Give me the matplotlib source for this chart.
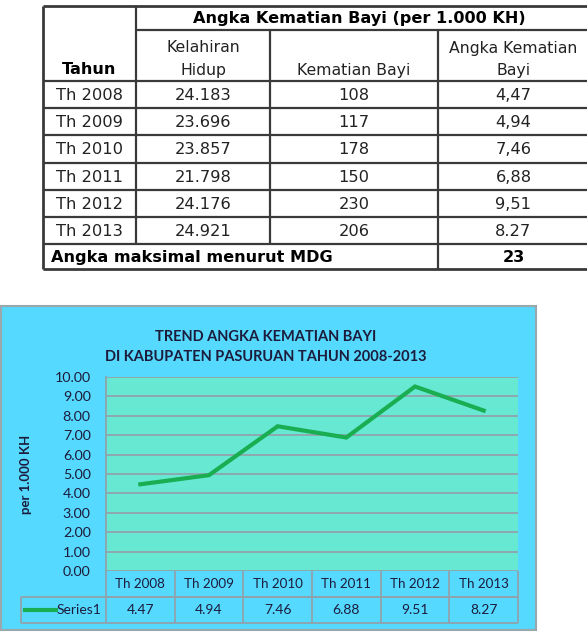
import matplotlib.pyplot as plt
from matplotlib.patches import Rectangle

# Data
tahun = ["Th 2008", "Th 2009", "Th 2010", "Th 2011", "Th 2012", "Th 2013"]
kelahiran_hidup = ["24.183", "23.696", "23.857", "21.798", "24.176", "24.921"]
kematian_bayi = ["108", "117", "178", "150", "230", "206"]
akb_tabel = ["4,47", "4,94", "7,46", "6,88", "9,51", "8.27"]
akb = [4.47, 4.94, 7.46, 6.88, 9.51, 8.27]
mdg = "23"
yticks = [0, 1, 2, 3, 4, 5, 6, 7, 8, 9, 10]

W, H = 587, 643
fig = plt.figure(figsize=(W / 100, H / 100), dpi=100)

# overlay axes in pixel coordinates (y down)
ax0 = fig.add_axes([0, 0, 1, 1])
ax0.set_xlim(0, W)
ax0.set_ylim(H, 0)
ax0.axis("off")

# ---------- top table ----------
tab_font = "DejaVu Sans"
lc = "#3a3a3a"
x_cols = [43, 136, 270, 438, 589]
y_top, y_h1, y_h2 = 6, 30, 81
row_h = (244 - 81) / 6
y_rows = [y_h2 + row_h * i for i in range(7)] + [269]

def hline(x1, x2, y, lw=1.6, c=lc):
    ax0.plot([x1, x2], [y, y], color=c, lw=lw, solid_capstyle="butt")

def vline(x, y1, y2, lw=1.6, c=lc):
    ax0.plot([x, x], [y1, y2], color=c, lw=lw, solid_capstyle="butt")

hline(x_cols[0], x_cols[-1], y_top, 2)
hline(x_cols[1], x_cols[-1], y_h1)
for y in y_rows[:-1]:
    hline(x_cols[0], x_cols[-1], y)
hline(x_cols[0], x_cols[-1], y_rows[-1], 2)
vline(x_cols[0], y_top, y_rows[-1], 2)
for x in x_cols[1:3]:
    vline(x, y_h1, y_rows[-2])
vline(x_cols[1], y_top, y_h1)
vline(x_cols[3], y_h1, y_rows[-1])

fs = 11.3
fsb = 11.6
cx = [(x_cols[i] + x_cols[i + 1]) / 2 for i in range(4)]
ax0.text((x_cols[1] + x_cols[-1]) / 2 - 3, (y_top + y_h1) / 2 + 1, "Angka Kematian Bayi (per 1.000 KH)",
         ha="center", va="center", fontsize=fsb, fontweight="bold", family=tab_font)
ax0.text(cx[0], 70, "Tahun", ha="center", va="center", fontsize=fsb, fontweight="bold", family=tab_font)
ax0.text(cx[1], 48, "Kelahiran", ha="center", va="center", fontsize=fs, family=tab_font, color="#222")
ax0.text(cx[1], 70, "Hidup", ha="center", va="center", fontsize=fs, family=tab_font, color="#222")
ax0.text(cx[2], 70, "Kematian Bayi", ha="center", va="center", fontsize=fs, family=tab_font, color="#222")
ax0.text(cx[3], 48, "Angka Kematian", ha="center", va="center", fontsize=fs, family=tab_font, color="#222")
ax0.text(cx[3], 70, "Bayi", ha="center", va="center", fontsize=fs, family=tab_font, color="#222")

for i in range(len(tahun)):
    yc = y_rows[i] + row_h / 2 + 1
    for j, v in enumerate([tahun[i], kelahiran_hidup[i], kematian_bayi[i], akb_tabel[i]]):
        ax0.text(cx[j], yc, v, ha="center", va="center", fontsize=fs + 0.4, family=tab_font, color="#222")
yc = (y_rows[-2] + y_rows[-1]) / 2 + 1
ax0.text(51, yc, "Angka maksimal menurut MDG", ha="left", va="center", fontsize=fsb,
         fontweight="bold", family=tab_font)
ax0.text(cx[3], yc, mdg, ha="center", va="center", fontsize=fsb, fontweight="bold", family=tab_font)

# ---------- chart ----------
cf = "Lato"
tc = "#1c1c3c"
gc = "#8fa3ab"
ax0.add_patch(Rectangle((0.5, 306), 535, 324, facecolor="#56D9FE", edgecolor="#9aa8ae", lw=1.5))
ax0.text(266, 337, "TREND ANGKA KEMATIAN BAYI", ha="center", va="center", fontsize=10.5,
         fontweight="bold", family=cf, color=tc)
ax0.text(266, 357, "DI KABUPATEN PASURUAN TAHUN 2008-2013", ha="center", va="center", fontsize=10.5,
         fontweight="bold", family=cf, color=tc)
ax0.text(26, 474, "per 1.000 KH", ha="center", va="center", rotation=90, fontsize=9.5,
         fontweight="bold", family=cf, color=tc)

px_l, px_r, px_t, px_b = 106, 518, 377, 571
ax = fig.add_axes([px_l / W, 1 - px_b / H, (px_r - px_l) / W, (px_b - px_t) / H])
ax.set_facecolor("#66E8D2")
x = list(range(len(tahun)))
ax.plot(x, akb, color="#1AAE52", lw=3, solid_joinstyle="miter", zorder=3)
ax.set_xlim(-0.5, len(tahun) - 0.5)
ax.set_ylim(0, 10)
ax.set_yticks(yticks)
ax.set_yticklabels([f"{v:.2f}" for v in yticks], fontsize=10.3, family=cf, color=tc)
ax.tick_params(axis="y", length=0, pad=11)
ax.set_xticks([])
for v in yticks:
    ax.axhline(v, color=gc, lw=1.3, zorder=1)
for s in ["top", "right", "bottom"]:
    ax.spines[s].set_visible(False)
ax.spines["left"].set_color(gc)
ax.spines["left"].set_linewidth(1.3)

# data table under the chart
row1, row2 = px_b + 26, px_b + 52
colw = (px_r - px_l) / len(tahun)
hline(px_l, px_r, row1, 1.3, gc)
hline(21, px_r, row1, 1.3, gc)
hline(21, px_r, row2, 1.3, gc)
vline(21, row1, row2, 1.3, gc)
for i in range(len(tahun) + 1):
    vline(px_l + colw * i, px_b, row2, 1.3, gc)
for i in range(len(tahun)):
    ax.text(i, -13 / 194, tahun[i], transform=ax.get_xaxis_transform(), ha="center", va="center",
            fontsize=9.6, family=cf, color=tc, clip_on=False)
    ax.text(i, -39 / 194, f"{akb[i]:.2f}", transform=ax.get_xaxis_transform(), ha="center", va="center",
            fontsize=10, family=cf, color=tc, clip_on=False)
ax0.plot([25, 56], [row1 + 13, row1 + 13], color="#1AAE52", lw=3)
ax0.text(57, row1 + 12.5, "Series1", ha="left", va="center", fontsize=10, family=cf, color=tc)

fig.savefig("out.png", dpi=100)
